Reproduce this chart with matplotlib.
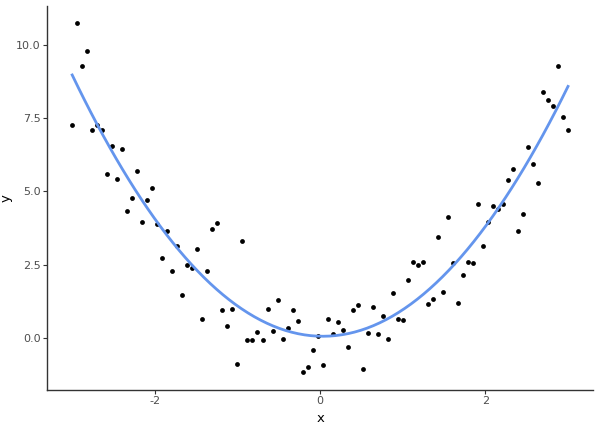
import numpy as np
import matplotlib
matplotlib.use("Agg")
import matplotlib.pyplot as plt

# 100 evenly spaced x values, y
x = np.linspace(-3, 3, 100)
y = np.array([
    7.27, 10.73, 9.29, 9.79, 7.08, 7.27, 7.08, 5.60, 6.55, 5.43,
    6.44, 4.34, 4.78, 5.70, 3.97, 4.70, 5.10, 3.90, 2.71, 3.65,
    2.28, 3.15, 1.46, 2.48, 2.40, 3.03, 0.64, 2.28, 3.71, 3.92,
    0.96, 0.41, 1.00, -0.88, 3.31, -0.08, -0.08, 0.19, -0.08, 0.99,
    0.22, 1.29, -0.03, 0.34, 0.96, 0.59, -1.17, -1.00, -0.41, 0.05,
    -0.92, 0.63, 0.13, 0.54, 0.28, -0.31, 0.95, 1.13, -1.07, 0.15,
    1.06, 0.14, 0.73, -0.03, 1.54, 0.64, 0.60, 1.98, 2.60, 2.48,
    2.60, 1.16, 1.34, 3.43, 1.57, 4.13, 2.54, 1.18, 2.13, 2.60,
    2.56, 4.57, 3.13, 3.95, 4.51, 4.40, 4.57, 5.37, 5.77, 3.64,
    4.21, 6.51, 5.94, 5.30, 8.38, 8.12, 7.92, 9.27, 7.55, 7.11,
])
x_ticks = [-2, 0, 2]
y_ticks = [0.0, 2.5, 5.0, 7.5, 10.0]

# quadratic least-squares smoother
grid = np.linspace(x.min(), x.max(), 80)
fit = np.polyval(np.polyfit(x, y, 2), grid)

fig = plt.figure(figsize=(6, 4.29), dpi=100)
ax = fig.add_axes([0.079, 0.092, 0.909, 0.894])

ax.scatter(x, y, s=12, color="black", linewidths=0, zorder=2)
ax.plot(grid, fit, color="#6495ED", lw=2, zorder=3)

xr = x.max() - x.min()
yr = y.max() - y.min()
ax.set_xlim(x.min() - 0.05 * xr, x.max() + 0.05 * xr)
ax.set_ylim(y.min() - 0.05 * yr, y.max() + 0.05 * yr)

ax.set_xticks(x_ticks)
ax.set_xticklabels([str(t) for t in x_ticks])
ax.set_yticks(y_ticks)
ax.set_yticklabels([f"{t:.1f}" for t in y_ticks])
ax.tick_params(colors="#333333", labelcolor="#4D4D4D", labelsize=8,
               length=3, width=0.8, pad=2)

for side in ["top", "right"]:
    ax.spines[side].set_visible(False)
for side in ["left", "bottom"]:
    ax.spines[side].set_color("#333333")
    ax.spines[side].set_linewidth(1)

ax.set_xlabel("x", fontsize=9.5)
ax.set_ylabel("y", fontsize=9.5)
ax.xaxis.set_label_coords(0.5, -0.058)
ax.yaxis.set_label_coords(-0.063, 0.5)

fig.savefig("out.png", dpi=100)
